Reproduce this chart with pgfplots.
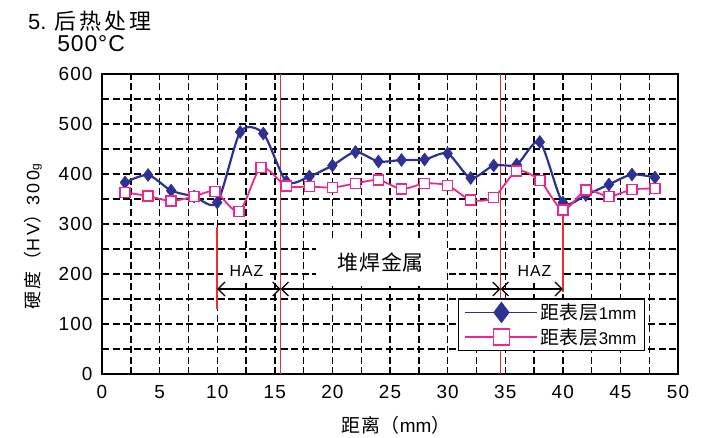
\documentclass[border=0pt]{standalone}
\usepackage{fontspec}
\setmainfont{Liberation Sans}
\newfontfamily\cjk{Noto Sans CJK SC}
\usepackage{pgfplots}
\pgfplotsset{compat=1.18}
\usetikzlibrary{arrows.meta}
\definecolor{navy}{RGB}{46,49,146}
\definecolor{pinkc}{RGB}{236,40,140}
\definecolor{redl}{RGB}{235,45,45}
\begin{document}
\begin{tikzpicture}
\begin{axis}[
  scale only axis, width=576bp, height=300bp,
  xmin=0, xmax=50, ymin=0, ymax=600,
  xtick={0,5,...,50}, ytick={0,100,...,600},
  minor xtick={2.5,7.5,...,47.5}, minor ytick={50,150,...,550},
  grid=both,
  major grid style={black, line width=1.4bp, dash pattern=on 7bp off 3.5bp},
  minor grid style={black, line width=1.4bp, dash pattern=on 7bp off 3.5bp},
  major tick length=0pt, minor tick length=0pt,
  axis line style={black, line width=1.5bp},
  tick label style={font=\fontsize{19}{22}\selectfont\addfontfeatures{LetterSpace=6}},
  /pgf/number format/assume math mode=true,
  xticklabel style={yshift=-8bp},
  yticklabel style={xshift=-6bp},
  clip=false,
  legend style={at={(axis cs:30.9,152)}, anchor=north west, draw=black, line width=1.5bp,
    fill=white, font=\fontsize{17}{20}\selectfont, row sep=3bp, inner xsep=6bp, inner ysep=3bp},
  legend cell align=left,
  legend image code/.code={\draw[line width=1.4bp, mark repeat=2,mark phase=2, every mark/.append style={scale=1.6}]
     plot coordinates {(0bp,0bp) (36bp,0bp) (72bp,0bp)};},
]
% annotations
\draw[redl, line width=1.5bp] (axis cs:15.5,0) -- (axis cs:15.5,600);
\draw[redl, line width=1.5bp] (axis cs:34.6,0) -- (axis cs:34.6,600);
\draw[redl, line width=1.5bp] (axis cs:10,130) -- (axis cs:10,295);
\draw[redl, line width=1.5bp] (axis cs:40,165) -- (axis cs:40,330);
\fill[white] (axis cs:18.6,176) rectangle (axis cs:29.8,272);
\fill[white] (axis cs:10.5,186) rectangle (axis cs:14.6,232);
\fill[white] (axis cs:35.3,186) rectangle (axis cs:39.8,232);
\node[font=\cjk\fontsize{21}{24}\selectfont\addfontfeatures{LetterSpace=4}] at (axis cs:24.2,223) {堆焊金属};
\node[font=\fontsize{16}{19}\selectfont\addfontfeatures{LetterSpace=6}] at (axis cs:12.55,205) {HAZ};
\node[font=\fontsize{16}{19}\selectfont\addfontfeatures{LetterSpace=6}] at (axis cs:37.55,205) {HAZ};
\draw[black, line width=1.2bp, {Straight Barb[length=7bp,width=14bp]}-{Straight Barb[length=7bp,width=14bp]}] (axis cs:10,170) -- (axis cs:15.5,170);
\draw[black, line width=1.2bp, {Straight Barb[length=7bp,width=14bp]}-{Straight Barb[length=7bp,width=14bp]}] (axis cs:15.5,170) -- (axis cs:34.6,170);
\draw[black, line width=1.2bp, {Straight Barb[length=7bp,width=14bp]}-{Straight Barb[length=7bp,width=14bp]}] (axis cs:34.6,170) -- (axis cs:40,170);
% titles and labels
\node[anchor=base west, inner sep=0pt, font=\fontsize{22}{26}\selectfont] at (axis cs:-6.42,688) {5. {\cjk\addfontfeatures{LetterSpace=14}后热处理}};
\node[anchor=base west, inner sep=0pt, font=\fontsize{23}{26}\selectfont\addfontfeatures{LetterSpace=4}] at (axis cs:-3.9,644) {500°C};
\node[rotate=90, font=\fontsize{18}{20}\selectfont\addfontfeatures{LetterSpace=14}] at (axis cs:-5.99,274) {{\cjk\addfontfeatures{LetterSpace=14}硬度（}HV{\cjk\addfontfeatures{LetterSpace=14}）}300{\fontsize{12}{14}\selectfont g}};
\node[font=\fontsize{19}{22}\selectfont] at (axis cs:25.5,-102) {{\cjk\addfontfeatures{LetterSpace=5}距离（}mm{\cjk ）}};
\path (axis cs:-8.854,-124) rectangle (axis cs:53.21,748);
% data
\addplot[navy, line width=2.2bp, smooth, tension=0.45, mark=diamond*, mark size=6.5bp,
  mark options={solid, line width=0.5bp}] coordinates {
 (2,383) (4,398) (6,367) (8,355) (10,343) (12,484) (14,481) (16,385) (18,395) (20,417)
 (22,444) (24,425) (26,428) (28,429) (30,441) (32,392) (34,417) (36,419) (38,464) (40,343)
 (42,358) (44,379) (46,399) (48,393)};
\addlegendentry{{\cjk\fontsize{19}{22}\selectfont\addfontfeatures{LetterSpace=5}距表层}1mm}
\addplot[pinkc, line width=1.8bp, smooth, tension=0.45, mark=square*, mark size=5bp,
  mark options={solid, fill=white, line width=1.5bp}] coordinates {
 (2,363) (4,356) (6,346) (8,355) (9.8,365) (11.9,325) (13.8,413) (16,376) (18,375) (20,373)
 (22,381) (24,388) (26,370) (28,381) (30,377) (32,348) (34,353) (36,406) (38,387) (40,328)
 (42,368) (44,355) (46,369) (48,371)};
\addlegendentry{{\cjk\fontsize{19}{22}\selectfont\addfontfeatures{LetterSpace=5}距表层}3mm}
\end{axis}
\end{tikzpicture}
\end{document}
